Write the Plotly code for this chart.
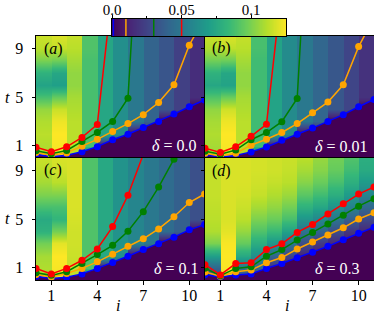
import numpy as np
import plotly.graph_objects as go

# ---------------- data ----------------
I_VALUES = list(range(12))          # site index i (line points)
COLUMNS = list(range(11))           # heatmap columns, column c spans [c, c+1]
T_KNOTS = list(range(11))           # t knots of heatmap profiles

THRESHOLDS = [0.001, 0.01, 0.03, 0.05]
LINE_COLORS = ["#0000ff", "#ffa500", "#008000", "#ff0000"]
DELTAS = ["0.0", "0.01", "0.1", "0.3"]
PANEL_LETTERS = ["a", "b", "c", "d"]

# heatmap column profiles (units 1e-3), one list per column, values at t = 0..10
HEAT_A = [
    [108, 110, 112, 110, 105, 88, 72, 80, 100, 112, 115],
    [120, 124, 125, 122, 115, 95, 70, 74, 98, 114, 118],
    [110, 112, 112, 112, 110, 108, 104, 104, 108, 112, 114],
    [0, 88, 88, 88, 88, 88, 88, 88, 88, 90, 90],
    [0, 0, 74, 74, 74, 74, 74, 74, 74, 74, 74],
    [0, 0, 62, 62, 62, 62, 62, 62, 62, 62, 62],
    [0, 0, 0, 50, 50, 50, 50, 50, 50, 50, 50],
    [0, 0, 0, 40, 40, 40, 40, 40, 40, 40, 40],
    [0, 0, 0, 0, 33, 33, 33, 33, 33, 33, 33],
    [0, 0, 0, 0, 24, 24, 24, 24, 24, 24, 24],
    [0, 0, 0, 0, 0, 16, 16, 16, 16, 16, 16],
]
HEAT_B = [
    [106, 108, 110, 108, 104, 90, 74, 80, 98, 110, 115],
    [120, 124, 125, 122, 116, 96, 72, 74, 97, 113, 118],
    [110, 112, 112, 112, 110, 108, 104, 104, 108, 112, 114],
    [0, 86, 86, 86, 86, 86, 86, 86, 86, 88, 88],
    [0, 0, 72, 72, 72, 72, 72, 72, 72, 72, 72],
    [0, 0, 60, 60, 60, 60, 60, 60, 60, 60, 60],
    [0, 0, 0, 50, 50, 50, 50, 50, 50, 50, 50],
    [0, 0, 0, 41, 41, 41, 41, 41, 41, 41, 41],
    [0, 0, 0, 0, 34, 34, 34, 34, 34, 34, 34],
    [0, 0, 0, 0, 26, 26, 26, 26, 26, 26, 26],
    [0, 0, 0, 0, 0, 18, 18, 18, 18, 18, 18],
]
HEAT_C = [
    [108, 110, 108, 98, 80, 76, 88, 100, 108, 112, 115],
    [120, 124, 125, 120, 98, 82, 88, 100, 112, 116, 118],
    [112, 114, 115, 116, 116, 117, 118, 118, 118, 118, 118],
    [0, 90, 90, 90, 90, 90, 90, 90, 90, 90, 90],
    [0, 0, 75, 75, 75, 75, 75, 75, 75, 75, 75],
    [0, 0, 64, 64, 64, 64, 64, 64, 64, 64, 64],
    [0, 0, 0, 57, 57, 57, 57, 57, 57, 57, 57],
    [0, 0, 0, 50, 50, 50, 50, 50, 50, 50, 50],
    [0, 0, 0, 0, 44, 44, 44, 44, 44, 44, 44],
    [0, 0, 0, 0, 38, 38, 38, 38, 38, 38, 38],
    [0, 0, 0, 0, 0, 31, 31, 31, 31, 31, 31],
]
HEAT_D = [
    [25, 40, 70, 100, 110, 112, 113, 114, 114, 114, 114],
    [118, 124, 125, 124, 120, 118, 118, 118, 118, 118, 118],
    [20, 48, 75, 95, 105, 112, 115, 117, 118, 118, 118],
    [15, 40, 62, 78, 90, 100, 108, 114, 116, 117, 117],
    [5, 15, 40, 66, 84, 96, 104, 110, 114, 116, 116],
    [3, 8, 25, 50, 72, 88, 98, 106, 112, 114, 115],
    [0, 2, 12, 30, 48, 65, 80, 92, 102, 108, 112],
    [0, 0, 8, 22, 40, 58, 74, 86, 96, 102, 105],
    [0, 0, 3, 14, 30, 48, 64, 78, 88, 95, 98],
    [0, 0, 0, 8, 20, 38, 54, 68, 79, 86, 90],
    [0, 0, 0, 4, 14, 28, 42, 56, 68, 76, 78],
]

# threshold lines: time t at which each site i crosses the threshold
BLUE_A = [0.3, 0.1, 0.22, 0.51, 0.93, 1.5, 1.95, 2.5, 3.0, 3.6, 4.2, 4.75]
ORANGE_A = [0.45, 0.22, 0.42, 0.97, 1.53, 2.18, 2.82, 3.55, 4.55, 6.0, 9.25, 11.5]
GREEN_A = [0.6, 0.35, 0.62, 1.36, 2.1, 3.0, 4.9, 26, None, None, None, None]
RED_A = [0.88, 0.51, 0.92, 1.69, 2.75, 14, None, None, None, None, None, None]

BLUE_B = [0.28, 0.08, 0.2, 0.5, 0.9, 1.45, 1.95, 2.45, 3.0, 3.55, 4.2, 4.8]
ORANGE_B = [0.38, 0.16, 0.38, 1.05, 1.54, 2.09, 2.82, 3.71, 4.58, 6.0, 9.13, 11.5]
GREEN_B = [0.55, 0.3, 0.65, 1.5, 2.09, 2.98, 4.88, 27, None, None, None, None]
RED_B = [0.8, 0.46, 0.92, 1.78, 2.76, 14, None, None, None, None, None, None]

BLUE_C = [0.3, 0.12, 0.22, 0.5, 0.95, 1.43, 1.95, 2.49, 2.97, 3.51, 4.11, 4.54]
ORANGE_C = [0.45, 0.25, 0.54, 0.95, 1.49, 2.11, 2.76, 3.38, 4.19, 5.19, 6.35, 7.05]
GREEN_C = [0.6, 0.38, 0.68, 1.35, 2.08, 2.84, 4.0, 5.6, 7.62, 9.9, 12.5, None]
RED_C = [0.95, 0.49, 0.95, 1.62, 2.54, 4.38, 6.95, 10.3, None, None, None, None]

BLUE_D = [0.43, 0.25, 0.4, 0.49, 0.95, 1.35, 1.82, 2.28, 2.76, 3.3, 3.84, 4.32]
ORANGE_D = [0.65, 0.3, 0.68, 0.81, 1.41, 1.84, 2.54, 3.12, 3.68, 4.28, 5.0, 5.52]
GREEN_D = [0.97, 0.35, 0.95, 1.08, 1.95, 2.49, 3.27, 3.9, 4.6, 5.3, 6.05, 6.66]
RED_D = [1.26, 0.42, 1.35, 1.41, 2.49, 2.97, 3.9, 4.55, 5.42, 6.25, 7.04, 7.62]

X_TICKS = [1, 4, 7, 10]
Y_TICKS = [1, 5, 9]
CB_TICKS = [0.0, 0.05, 0.1]
CB_TICK_TEXT = ["0.0", "0.05", "0.1"]
CB_MINOR = [0.025, 0.075]
ZMAX = 0.125

# ---------------- figure ----------------
W, H = 374, 314
FONT = "Liberation Serif"


def px(x):
    return x / W


def py(y):
    return 1 - y / H


panels = [
    dict(heat=HEAT_A, lines=[BLUE_A, ORANGE_A, GREEN_A, RED_A]),
    dict(heat=HEAT_B, lines=[BLUE_B, ORANGE_B, GREEN_B, RED_B]),
    dict(heat=HEAT_C, lines=[BLUE_C, ORANGE_C, GREEN_C, RED_C]),
    dict(heat=HEAT_D, lines=[BLUE_D, ORANGE_D, GREEN_D, RED_D]),
]

x_domains = [[px(36), px(204.6)], [px(205), 1.0]]
y_domains = [[py(158), py(36)], [py(280), py(158)]]

fig = go.Figure()
layout = dict(
    template="none",
    width=W, height=H, autosize=False,
    margin=dict(l=0, r=0, t=0, b=0, pad=0),
    paper_bgcolor="white", plot_bgcolor="#440154",
    showlegend=False,
    font=dict(family=FONT, size=16, color="black"),
)

xs_heat = np.ravel([[c + 0.02, c + 0.98] for c in COLUMNS])

annotations = []
for k, p in enumerate(panels):
    row, col = divmod(k, 2)
    xa = "x" if k == 0 else f"x{k + 1}"
    ya = "y" if k == 0 else f"y{k + 1}"
    xkey = "xaxis" if k == 0 else f"xaxis{k + 1}"
    ykey = "yaxis" if k == 0 else f"yaxis{k + 1}"

    zc = np.array(p["heat"], dtype=float) * 1e-3  # (columns, t)
    z = np.repeat(zc.T, 2, axis=1)                # (t, 2*columns)
    fig.add_trace(go.Heatmap(
        x=xs_heat, y=T_KNOTS, z=z, zsmooth="best",
        colorscale="Viridis", zmin=0, zmax=ZMAX, showscale=False,
        xaxis=xa, yaxis=ya, hoverinfo="skip"))

    for j, (vals, colr) in enumerate(zip(p["lines"], LINE_COLORS)):
        fig.add_trace(go.Scatter(
            x=I_VALUES, y=vals, mode="lines+markers",
            line=dict(color=colr, width=1.5),
            marker=dict(color=colr, size=7),
            fill="tozeroy" if j == 0 else None,
            fillcolor="#440154" if j == 0 else None,
            xaxis=xa, yaxis=ya, hoverinfo="skip"))

    layout[xkey] = dict(
        domain=x_domains[col], range=[0, 11], anchor=ya, automargin=False,
        tickvals=X_TICKS, showticklabels=(row == 1),
        ticks="outside", ticklen=3.5, tickwidth=1, tickcolor="black",
        showline=True, mirror=True, linecolor="black", linewidth=1,
        showgrid=False, zeroline=False,
        tickfont=dict(family=FONT, size=16), ticklabelstandoff=-3)
    layout[ykey] = dict(
        domain=y_domains[row], range=[0, 10], anchor=xa, automargin=False,
        tickvals=Y_TICKS, showticklabels=(col == 0),
        ticks="outside", ticklen=3.5, tickwidth=1, tickcolor="black",
        showline=True, mirror=True, linecolor="black", linewidth=1,
        showgrid=False, zeroline=False,
        tickfont=dict(family=FONT, size=16), ticklabelstandoff=5)

    # panel letter
    lx = 42 if col == 0 else 210
    ly = [49, 47.5, 170, 171][k]
    annotations.append(dict(
        x=px(lx), y=py(ly), xref="paper", yref="paper",
        text=f"(<i>{PANEL_LETTERS[k]}</i>)", showarrow=False,
        xanchor="left", yanchor="middle",
        font=dict(family=FONT, size=16, color="black")))
    # delta label
    dx = [150, 313, 151.5, 313][k]
    dy = [145, 146.5, 268, 268][k]
    annotations.append(dict(
        x=px(dx), y=py(dy), xref="paper", yref="paper",
        text=f"<i>δ</i> = {DELTAS[k]}", showarrow=False,
        xanchor="left", yanchor="middle",
        font=dict(family=FONT, size=16, color="white")))

# axis labels
for yy in (97.5, 218.5):
    annotations.append(dict(x=px(8), y=py(yy), xref="paper", yref="paper",
                            text="<i>t</i>", showarrow=False,
                            xanchor="center", yanchor="middle",
                            font=dict(family=FONT, size=16)))
for xx in (118, 287):
    annotations.append(dict(x=px(xx), y=py(305), xref="paper", yref="paper",
                            text="<i>i</i>", showarrow=False,
                            xanchor="center", yanchor="middle",
                            font=dict(family=FONT, size=16)))

# colorbar (own axis)
cb_x = np.linspace(0, ZMAX, 300)
fig.add_trace(go.Heatmap(
    x=cb_x, y=[0.5], z=[cb_x], colorscale="Viridis", zmin=0, zmax=ZMAX,
    showscale=False, xaxis="x5", yaxis="y5", hoverinfo="skip"))
for thr, colr in zip(THRESHOLDS, LINE_COLORS):
    fig.add_trace(go.Scatter(
        x=[thr, thr], y=[0, 1], mode="lines",
        line=dict(color=colr, width=1.5),
        xaxis="x5", yaxis="y5", hoverinfo="skip"))

layout["xaxis5"] = dict(
    domain=[px(112), px(286)], range=[0, ZMAX], anchor="y5", side="top",
    automargin=False,
    tickvals=CB_TICKS, ticktext=CB_TICK_TEXT,
    ticks="outside", ticklen=3.5, tickcolor="black",
    minor=dict(tickvals=CB_MINOR, ticks="outside", ticklen=2, tickcolor="black"),
    showline=True, mirror=True, linecolor="black", linewidth=1,
    showgrid=False, zeroline=False, tickfont=dict(family=FONT, size=15),
    ticklabelstandoff=-6)
layout["yaxis5"] = dict(
    domain=[py(36), py(19)], range=[0, 1], anchor="x5", automargin=False,
    showticklabels=False, ticks="",
    showline=True, mirror=True, linecolor="black", linewidth=1,
    showgrid=False, zeroline=False)

layout["annotations"] = annotations
fig.update_layout(**layout)
fig.write_html("out.html",
               config={"displayModeBar": False},
               post_script="document.body.style.margin='0px';"
                           "document.body.style.overflow='hidden';")
